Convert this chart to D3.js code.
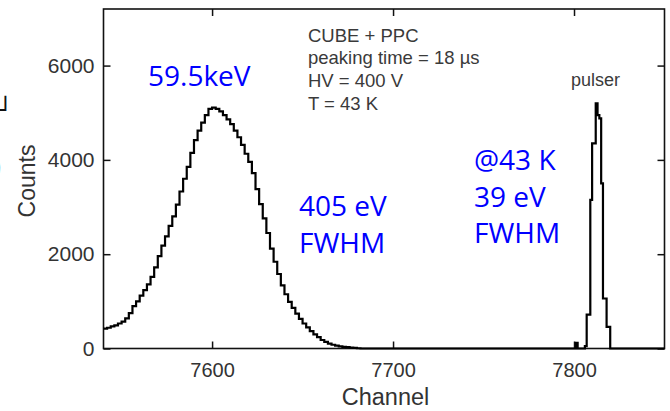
<!DOCTYPE html>
<html>
<head>
<meta charset="utf-8">
<script src="https://cdn.jsdelivr.net/npm/d3@7"></script>
<style>
  html, body { margin: 0; padding: 0; background: #fff; }
  svg { display: block; }
</style>
</head>
<body>
<svg id="chart" width="670" height="411"></svg>
<script>
// ---- data ----
const mainChannels = [7540,7542,7544,7546,7548,7550,7552,7554,7556,7558,7560,7562,7564,7566,7568,7570,7572,7574,7576,7578,7580,7582,7584,7586,7588,7590,7592,7594,7596,7598,7600,7602,7604,7606,7608,7610,7612,7614,7616,7618,7620,7622,7624,7626,7628,7630,7632,7634,7636,7638,7640,7642,7644,7646,7648,7650,7652,7654,7656,7658,7660,7662,7664,7666,7668,7670,7672,7674,7676,7678,7680,7682];
const mainCounts   = [420,440,470,490,530,570,640,750,900,1000,1120,1240,1360,1520,1720,1960,2180,2380,2600,2800,3050,3330,3600,3850,4150,4420,4620,4790,4950,5080,5110,5080,5030,4950,4860,4760,4620,4480,4320,4130,3960,3720,3380,3060,2760,2450,2120,1840,1580,1340,1150,990,860,740,630,530,450,370,300,240,180,140,105,80,60,45,35,28,20,12,5,0];
const pulserChannels = [7801,7802,7806,7807,7808,7809,7810,7811,7812,7813,7814,7815,7816,7817,7818,7819,7820,7850];
const pulserCounts   = [120,0,50,720,720,3150,4350,4350,5200,4950,4880,3500,1060,1060,460,460,0,0];

const xTicks = [7600, 7700, 7800];
const yTicks = [0, 2000, 4000, 6000];
const xDomain = [7540, 7850];
const yDomain = [0, 7200];

const infoLines = ["CUBE + PPC", "peaking time = 18 \u00b5s", "HV = 400 V", "T = 43 K"];
const peakLabel = "59.5keV";
const mainResLines = ["405 eV", "FWHM"];
const pulserResLines = ["@43 K", "39 eV", "FWHM"];

// ---- layout ----
const svg = d3.select("#chart");
const L = 103.5, R = 664.5, T = 9, B = 348.5;

const x = d3.scaleLinear().domain(xDomain).range([L, R]);
const y = d3.scaleLinear().domain(yDomain).range([B, T]);

const tickFont = "'Liberation Sans', Arial, Helvetica, sans-serif";
const tickColor = "#333";

// axes (ticks inward)
const gx = svg.append("g").attr("transform", `translate(0,${B})`)
  .call(d3.axisBottom(x).tickValues(xTicks).tickSize(-7).tickPadding(14).tickFormat(d3.format("d")));
const gy = svg.append("g").attr("transform", `translate(${L},0)`)
  .call(d3.axisLeft(y).tickValues(yTicks).tickSize(-7).tickPadding(9).tickFormat(d3.format("d")));
const gt = svg.append("g").attr("transform", `translate(0,${T})`)
  .call(d3.axisTop(x).tickValues(xTicks).tickSize(-7).tickFormat(""));
const gr = svg.append("g").attr("transform", `translate(${R},0)`)
  .call(d3.axisRight(y).tickValues(yTicks).tickSize(-7).tickFormat(""));

[gx, gy, gt, gr].forEach(g => {
  g.select(".domain").remove();
  g.selectAll(".tick line").attr("stroke", "#111").attr("stroke-width", 1.5);
});
gx.selectAll("text").attr("font-family", tickFont).attr("font-size", 20).attr("fill", tickColor);
gy.selectAll("text").attr("font-family", tickFont).attr("font-size", 21).attr("fill", tickColor);

// frame
svg.append("rect").attr("x", L).attr("y", T).attr("width", R - L).attr("height", B - T)
  .attr("fill", "none").attr("stroke", "#111").attr("stroke-width", 1.6);

// histogram (step line)
const pts = [];
mainChannels.forEach((c, i) => pts.push([c, mainCounts[i]]));
pulserChannels.forEach((c, i) => pts.push([c, pulserCounts[i]]));
const line = d3.line().x(d => x(d[0])).y(d => y(d[1])).curve(d3.curveStepAfter);
svg.append("path").datum(pts).attr("d", line)
  .attr("fill", "none").attr("stroke", "#000").attr("stroke-width", 2.2)
  .attr("stroke-linejoin", "miter");

// axis titles
svg.append("text").attr("x", 385.5).attr("y", 405).attr("text-anchor", "middle")
  .attr("font-family", tickFont).attr("font-size", 23.5).attr("fill", tickColor).text("Channel");
svg.append("text").attr("transform", "translate(35,181) rotate(-90)").attr("text-anchor", "middle")
  .attr("font-family", tickFont).attr("font-size", 23).attr("fill", tickColor).text("Counts");

// info block
svg.append("g").selectAll("text").data(infoLines).join("text")
  .attr("x", 308).attr("y", (d, i) => 41.5 + i * 22.8)
  .attr("font-family", tickFont).attr("font-size", 18.5).attr("fill", "#3a3a3a")
  .text(d => d);

svg.append("text").attr("x", 571).attr("y", 86)
  .attr("font-family", tickFont).attr("font-size", 18).attr("fill", "#3a3a3a").text("pulser");

// blue annotations
const annFont = "'Open Sans', 'Noto Sans', sans-serif";
const blue = "#0000ff";
svg.append("text").attr("x", 148).attr("y", 85.5)
  .attr("font-family", annFont).attr("font-size", 28).attr("fill", blue).text(peakLabel);
svg.append("g").selectAll("text").data(mainResLines).join("text")
  .attr("x", 299).attr("y", (d, i) => 216 + i * 37)
  .attr("font-family", annFont).attr("font-size", 28).attr("fill", blue).text(d => d);
svg.append("g").selectAll("text").data(pulserResLines).join("text")
  .attr("x", 474).attr("y", (d, i) => 170 + i * 36.5)
  .attr("font-family", annFont).attr("font-size", 28).attr("fill", blue).text(d => d);

// cropped glyph fragments at the left edge (partly outside the picture, as in the reference)
svg.append("text").attr("x", -1.7).attr("y", 118)
  .attr("font-family", "'DejaVu Sans Mono', monospace").attr("font-size", 24).attr("fill", "#111").text("\u2518");
svg.append("text").attr("x", -7).attr("y", 176)
  .attr("font-family", annFont).attr("font-size", 30).attr("font-weight", 300).attr("fill", "#3a5fd8").text(")");
</script>
</body>
</html>
